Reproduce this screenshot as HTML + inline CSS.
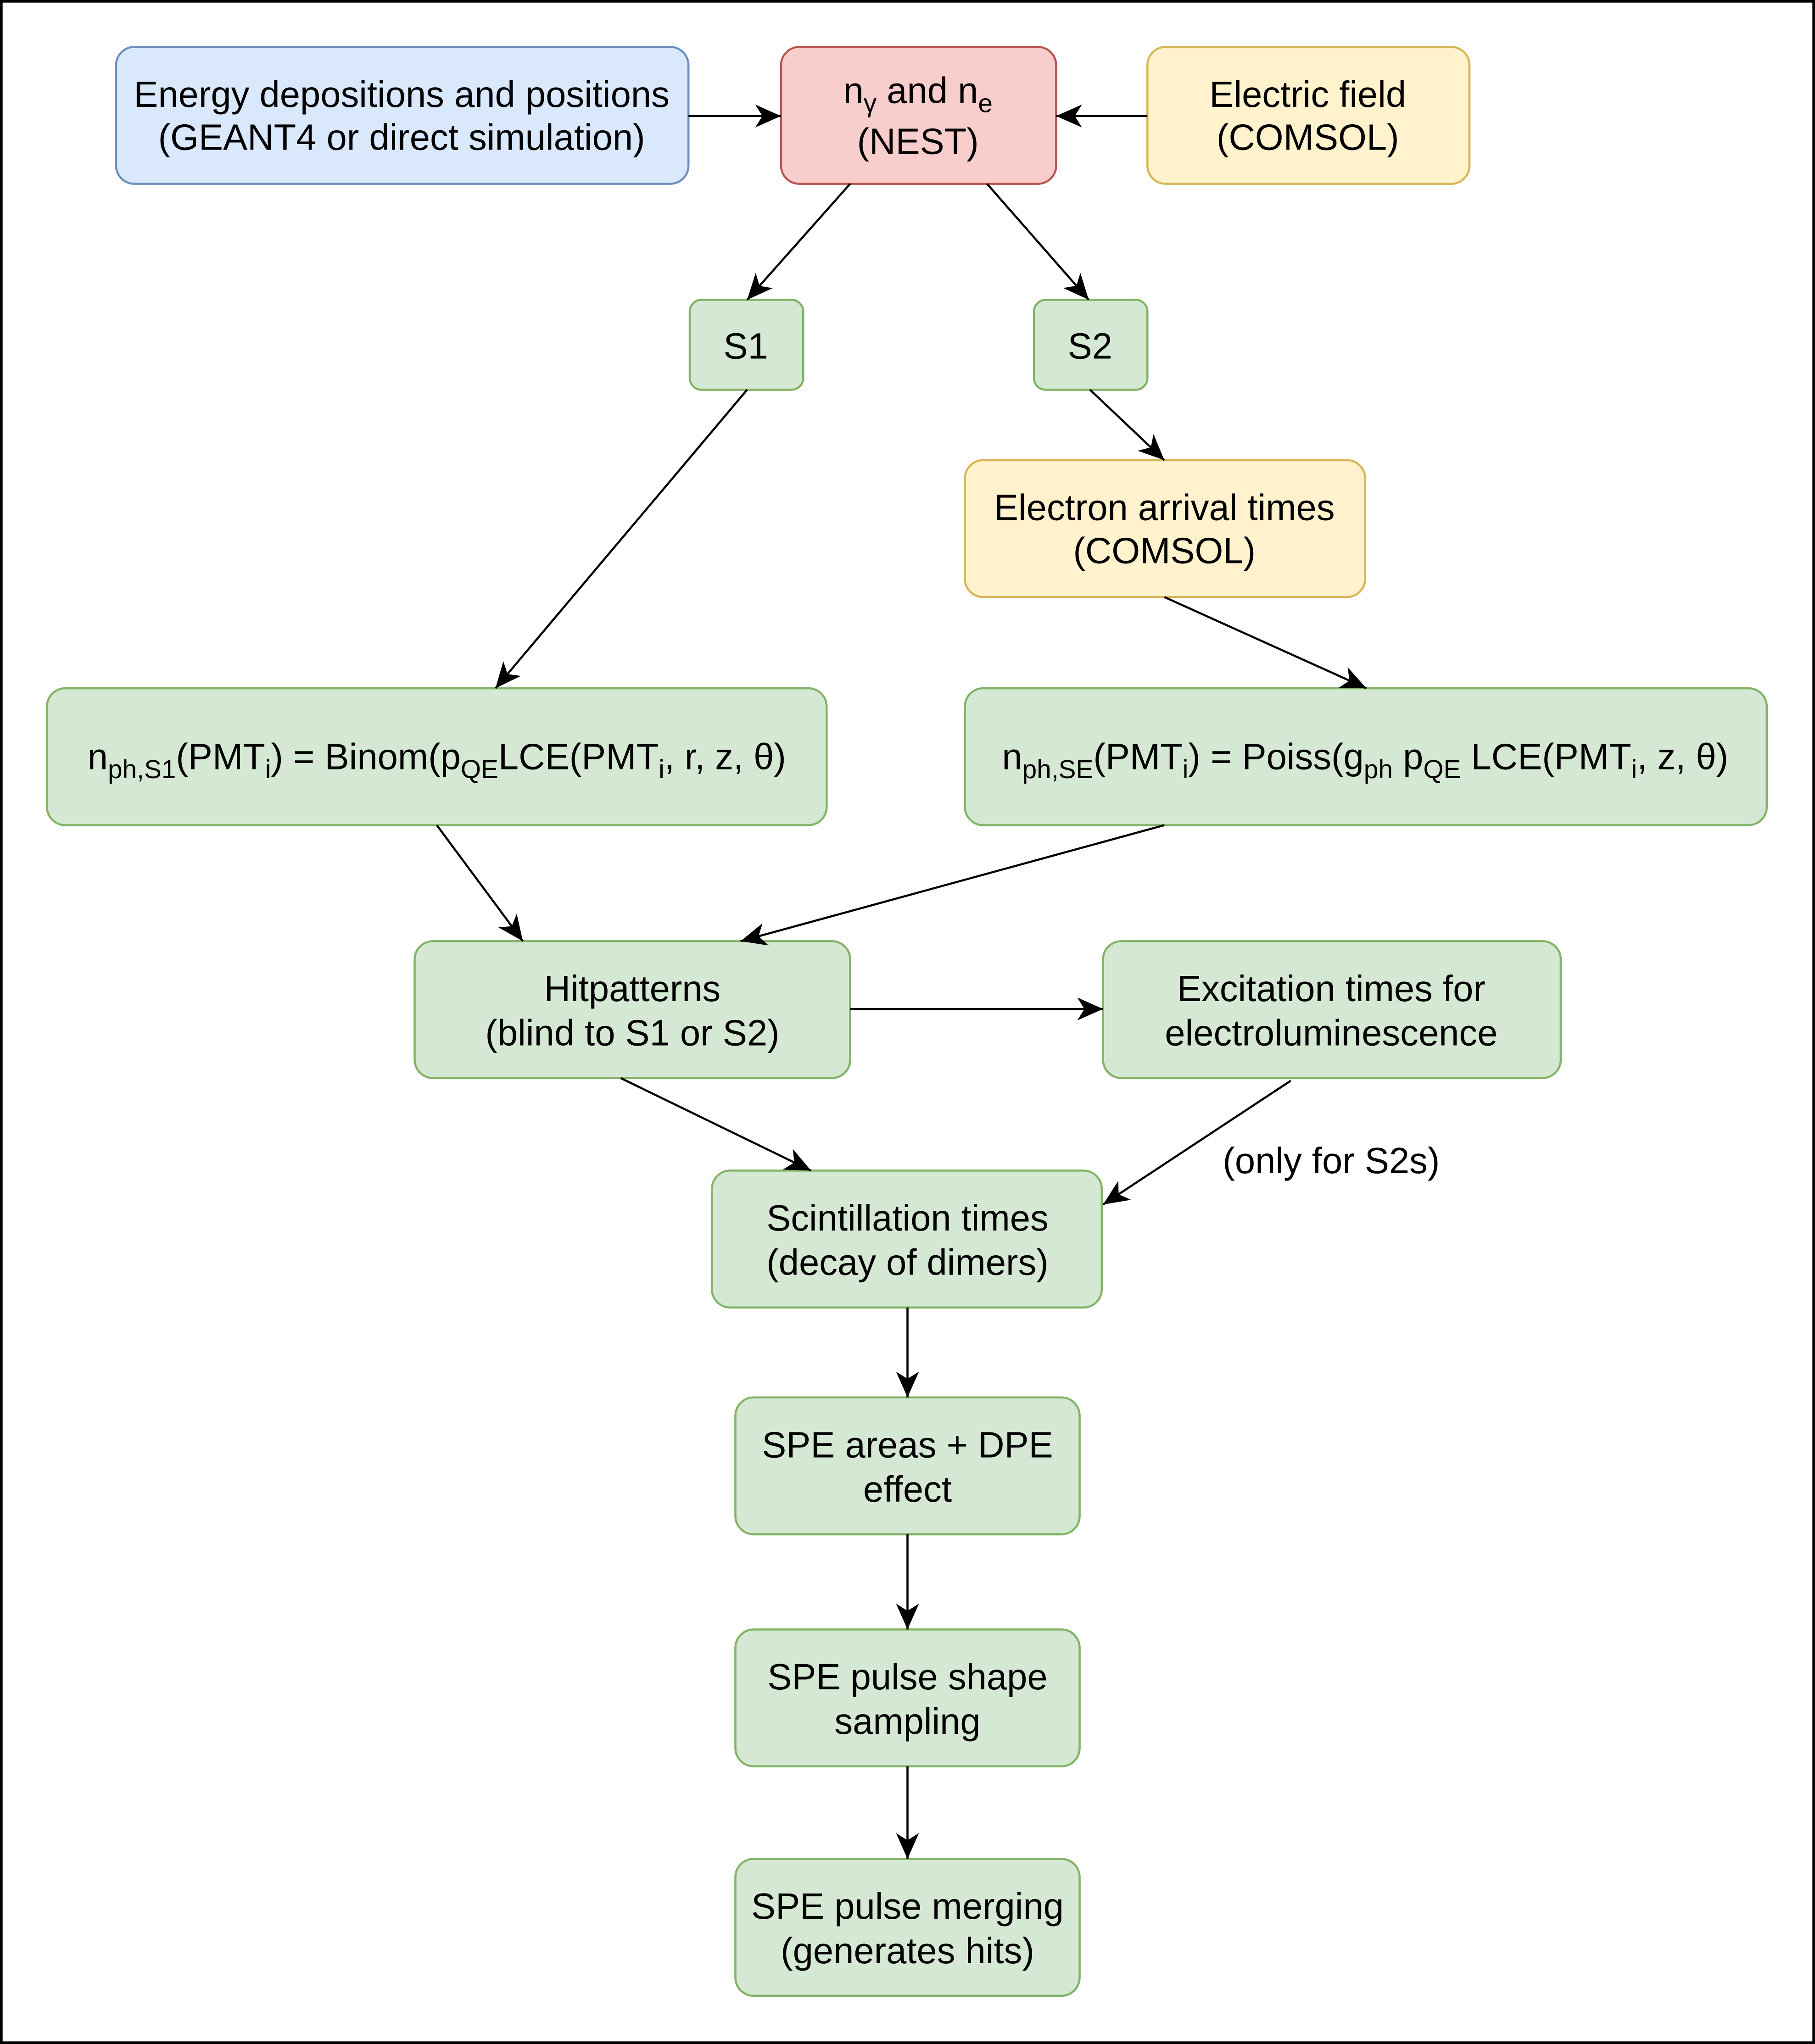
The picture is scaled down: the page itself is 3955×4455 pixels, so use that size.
<!DOCTYPE html>
<html><head><meta charset="utf-8"><style>html,body{margin:0;padding:0;background:#fff}svg{display:block}</style></head>
<body>
<svg xmlns="http://www.w3.org/2000/svg" width="3955" height="4455" viewBox="0 0 1392 1568">
<defs>
<marker id="a" markerUnits="userSpaceOnUse" markerWidth="22" markerHeight="18" viewBox="0 0 20 16" refX="18" refY="8" orient="auto">
<path d="M0,0 L18,8 L0,16 L5,8 Z" fill="#000"/>
</marker>
</defs>
<rect x="1" y="1" width="1390" height="1566" fill="#fff" stroke="#000" stroke-width="2"/>
<g stroke-width="1.6">
<rect x="89" y="36" width="439" height="105" rx="14" fill="#dae8fc" stroke="#6c8ebf"/>
<rect x="599" y="36" width="211" height="105" rx="14" fill="#f8cecc" stroke="#b85450"/>
<rect x="880" y="36" width="247" height="105" rx="14" fill="#fff2cc" stroke="#d6b656"/>
<rect x="529" y="230" width="87" height="69" rx="9" fill="#d5e8d4" stroke="#82b366"/>
<rect x="793" y="230" width="87" height="69" rx="9" fill="#d5e8d4" stroke="#82b366"/>
<rect x="740" y="353" width="307" height="105" rx="14" fill="#fff2cc" stroke="#d6b656"/>
<rect x="36" y="528" width="598" height="105" rx="14" fill="#d5e8d4" stroke="#82b366"/>
<rect x="740" y="528" width="615" height="105" rx="14" fill="#d5e8d4" stroke="#82b366"/>
<rect x="318" y="722" width="334" height="105" rx="14" fill="#d5e8d4" stroke="#82b366"/>
<rect x="846" y="722" width="351" height="105" rx="14" fill="#d5e8d4" stroke="#82b366"/>
<rect x="546" y="898" width="299" height="105" rx="14" fill="#d5e8d4" stroke="#82b366"/>
<rect x="564" y="1072" width="264" height="105" rx="14" fill="#d5e8d4" stroke="#82b366"/>
<rect x="564" y="1250" width="264" height="105" rx="14" fill="#d5e8d4" stroke="#82b366"/>
<rect x="564" y="1426" width="264" height="105" rx="14" fill="#d5e8d4" stroke="#82b366"/>
</g>
<g stroke="#000" stroke-width="1.6" fill="none" marker-end="url(#a)">
<line x1="528" y1="89" x2="599" y2="89"/>
<line x1="880" y1="89" x2="810" y2="89"/>
<line x1="652" y1="141" x2="573" y2="230"/>
<line x1="757" y1="141" x2="835" y2="230"/>
<line x1="836" y1="299" x2="893" y2="353"/>
<line x1="573" y1="299" x2="380" y2="528"/>
<line x1="893" y1="458" x2="1048" y2="528"/>
<line x1="335" y1="633" x2="401" y2="722"/>
<line x1="893" y1="633" x2="568" y2="722"/>
<line x1="652" y1="774" x2="846" y2="774"/>
<line x1="476" y1="827" x2="622" y2="898"/>
<line x1="990" y1="829" x2="846" y2="924"/>
<line x1="696" y1="1003" x2="696" y2="1072"/>
<line x1="696" y1="1177" x2="696" y2="1250"/>
<line x1="696" y1="1355" x2="696" y2="1426"/>
</g>
<g font-family="Liberation Sans, Arial, sans-serif" font-size="28" fill="#000" text-anchor="middle">
<text x="308" y="82">Energy depositions and positions</text>
<text x="308" y="115">(GEANT4 or direct simulation)</text>
<text x="704" y="79">n<tspan font-size="20" dy="7">γ</tspan><tspan dy="-7"> and n</tspan><tspan font-size="20" dy="7">e</tspan></text>
<text x="704" y="118">(NEST)</text>
<text x="1003" y="82">Electric field</text>
<text x="1003" y="115">(COMSOL)</text>
<text x="572" y="275">S1</text>
<text x="836" y="275">S2</text>
<text x="893" y="399">Electron arrival times</text>
<text x="893" y="432">(COMSOL)</text>
<text x="335" y="590">n<tspan font-size="20" dy="7">ph,S1</tspan><tspan dy="-7">(PMT</tspan><tspan font-size="20" dy="7">i</tspan><tspan dy="-7">) = Binom(p</tspan><tspan font-size="20" dy="7">QE</tspan><tspan dy="-7">LCE(PMT</tspan><tspan font-size="20" dy="7">i</tspan><tspan dy="-7">, r, z, θ)</tspan></text>
<text x="1047" y="590">n<tspan font-size="20" dy="7">ph,SE</tspan><tspan dy="-7">(PMT</tspan><tspan font-size="20" dy="7">i</tspan><tspan dy="-7">) = Poiss(g</tspan><tspan font-size="20" dy="7">ph</tspan><tspan dy="-7"> p</tspan><tspan font-size="20" dy="7">QE</tspan><tspan dy="-7"> LCE(PMT</tspan><tspan font-size="20" dy="7">i</tspan><tspan dy="-7">, z, θ)</tspan></text>
<text x="485" y="768">Hitpatterns</text>
<text x="485" y="802">(blind to S1 or S2)</text>
<text x="1021" y="768">Excitation times for</text>
<text x="1021" y="802">electroluminescence</text>
<text x="1021" y="900">(only for S2s)</text>
<text x="696" y="944">Scintillation times</text>
<text x="696" y="978">(decay of dimers)</text>
<text x="696" y="1118">SPE areas + DPE</text>
<text x="696" y="1152">effect</text>
<text x="696" y="1296">SPE pulse shape</text>
<text x="696" y="1330">sampling</text>
<text x="696" y="1472">SPE pulse merging</text>
<text x="696" y="1506">(generates hits)</text>
</g>
</svg>
</body></html>
